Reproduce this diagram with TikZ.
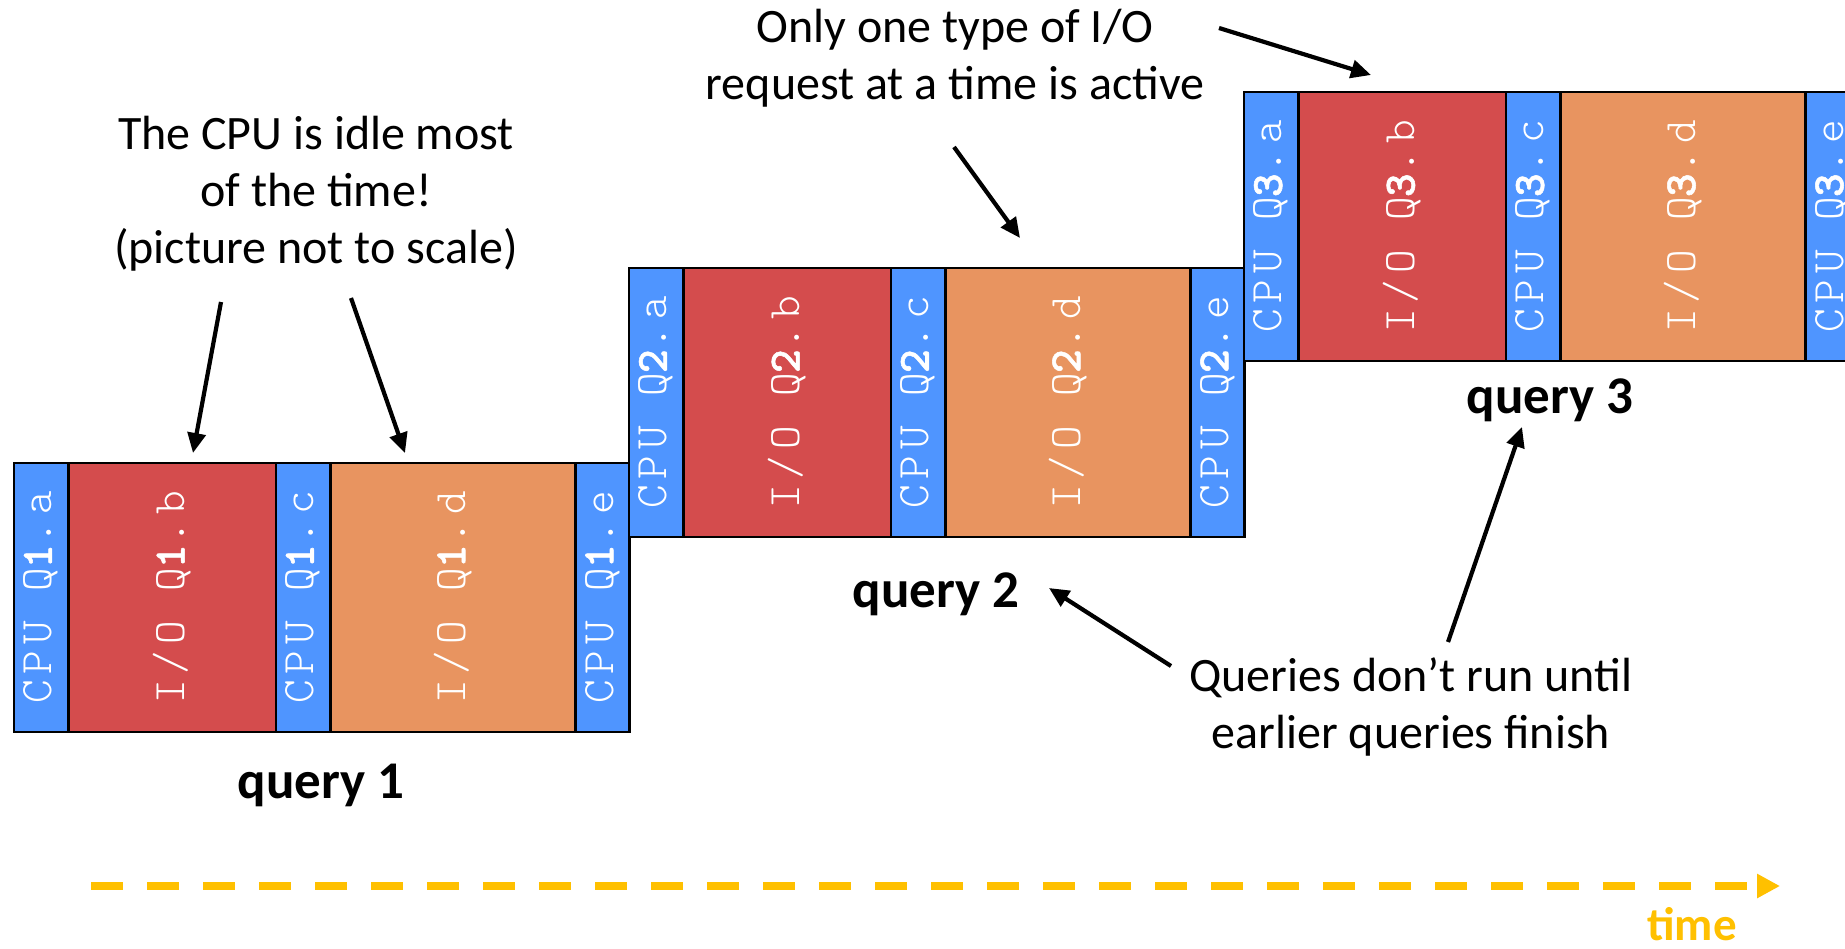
\documentclass[tikz,border=0pt]{standalone}
\usepackage{fontspec}
\setmainfont{Carlito}
\newfontfamily\boxfont{lmmonolt10-regular}[Extension=.otf, LetterSpace=13]
\newfontfamily\digitfont{lmmonolt10-bold}[Extension=.otf, LetterSpace=13, FakeBold=1.2]
\usetikzlibrary{arrows.meta}

\definecolor{cpuBlue}{RGB}{79,149,255}
\definecolor{ioRed}{RGB}{212,76,77}
\definecolor{ioOrange}{RGB}{232,148,96}
\definecolor{timeYellow}{RGB}{255,192,0}

\tikzset{
  seg/.style={draw=black, line width=1.3pt, inner sep=0pt, outer sep=0pt,
    minimum height=134.5pt, anchor=north west, text=white,
    font=\boxfont\fontsize{22.5pt}{27pt}\selectfont},
  cpuseg/.style={seg, fill=cpuBlue, minimum width=27.2pt},
  iobseg/.style={seg, fill=ioRed, minimum width=103.75pt},
  iodseg/.style={seg, fill=ioOrange, minimum width=122.5pt},
  note/.style={font=\fontsize{24pt}{28.5pt}\selectfont, align=center,
    anchor=base, inner sep=0pt},
  qlabel/.style={font=\bfseries\fontsize{26.5pt}{30pt}\selectfont,
    anchor=base, inner sep=0pt},
  pointer/.style={draw=black, line width=2.1pt, -{Triangle[length=10pt,width=9pt]}},
  timeline/.style={draw=timeYellow, line width=4pt, dash pattern=on 16pt off 12pt,
    -{Triangle[length=11.5pt,width=11.5pt]}},
}

% segment caption: kind, query number (bold), step letter
\newcommand\segtext[3]{\rotatebox{90}{#1 Q{\digitfont #2}.#3}}

% one query: CPU a, I/O b, CPU c, I/O d, CPU e side by side
\newcommand\queryrow[3]{%
  \node[cpuseg] (c#3a) at (#1,#2) {\segtext{CPU}{#3}{a}};
  \node[iobseg] (i#3b) at (c#3a.north east) {\segtext{I/O}{#3}{b}};
  \node[cpuseg] (c#3c) at (i#3b.north east) {\segtext{CPU}{#3}{c}};
  \node[iodseg] (i#3d) at (c#3c.north east) {\segtext{I/O}{#3}{d}};
  \node[cpuseg] (c#3e) at (i#3d.north east) {\segtext{CPU}{#3}{e}};
}

\begin{document}
\begin{tikzpicture}[x=0.5pt, y=-0.5pt]
  \useasboundingbox (0,0) rectangle (1845,948);
  \fill[white] (0,0) rectangle (1845,948);
  \clip (0,0) rectangle (1845,948);

  % the three queries, each starting when the previous one ends
  \queryrow{14}{463}{1}
  \queryrow{629}{268}{2}
  \queryrow{1244}{92}{3}

  % query captions
  \node[qlabel] (q1) at (321,798) {query 1};
  \node[qlabel] (q2) at (936,607) {query 2};
  \node[qlabel] (q3) at (1550,413) {query 3};

  % explanatory notes (placed by the baseline of their last line)
  \node[note] (idle) at (316,263) {The CPU is idle most\\of the time!\\(picture not to scale)};
  \node[note] (single) at (955,99) {Only one type of I/O\\request at a time is active};
  \node[note] (serial) at (1411,748) {Queries don’t run until\\earlier queries finish};

  % arrow end points
  \coordinate (idleA) at (221,302);  \coordinate (toB1) at (193,453);
  \coordinate (idleB) at (351,298);  \coordinate (toD1) at (405,453);
  \coordinate (singleA) at (954,147); \coordinate (toD2) at (1020,238);
  \coordinate (singleB) at (1219,28); \coordinate (toB3) at (1371,75);
  \coordinate (serialA) at (1171,666); \coordinate (toQ2) at (1049,588);
  \coordinate (serialB) at (1448,642); \coordinate (toQ3) at (1522,427);

  \draw[pointer] (idleA) -- (toB1);
  \draw[pointer] (idleB) -- (toD1);
  \draw[pointer] (singleA) -- (toD2);
  \draw[pointer] (singleB) -- (toB3);
  \draw[pointer] (serialA) -- (toQ2);
  \draw[pointer] (serialB) -- (toQ3);

  % time axis
  \coordinate (t0) at (91,886);
  \coordinate (t1) at (1780,886);
  \draw[timeline] (t0) -- (t1);
  \node[anchor=base, inner sep=0pt, text=timeYellow,
        font=\bfseries\fontsize{23.5pt}{28pt}\selectfont] (time) at (1692,940) {time};
\end{tikzpicture}
\end{document}
